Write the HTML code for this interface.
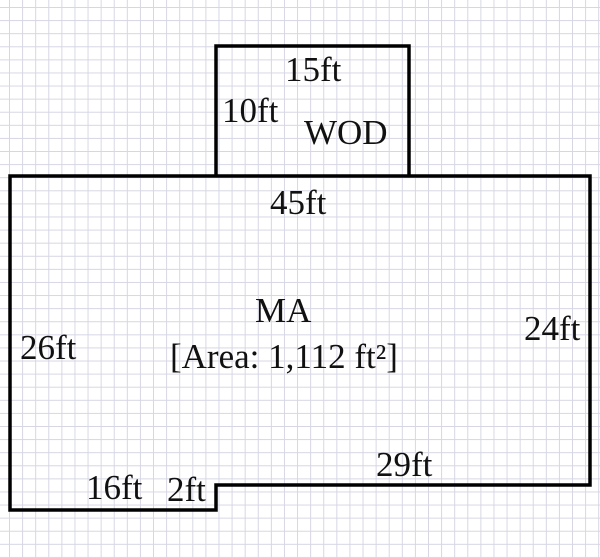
<!DOCTYPE html>
<html><head><style>
html,body{margin:0;padding:0;}
body{width:600px;height:558px;overflow:hidden;background:#fff;
background-image:linear-gradient(to right,#d6d6e4 1px,transparent 1px),linear-gradient(to bottom,#d6d6e4 1px,transparent 1px);
background-size:13.1px 13.1px;background-position:9px 7px;}
svg{position:absolute;left:0;top:0;}
text{font-family:"Liberation Serif",serif;font-size:35px;fill:#111;}
</style></head><body>
<svg width="600" height="558">
<g fill="none" stroke="#000" stroke-width="3.5" stroke-linejoin="miter">
<polyline points="216,176 216,46 409,46 409,176"/>
<polygon points="10,176 590,176 590,485 216,485 216,510 10,510"/>
</g>
<text x="285" y="81">15ft</text>
<text x="222" y="122">10ft</text>
<text x="304" y="144">WOD</text>
<text x="270" y="214">45ft</text>
<text x="255" y="322">MA</text>
<text x="170" y="368">[Area: 1,112 ft²]</text>
<text x="20" y="359">26ft</text>
<text x="524" y="340">24ft</text>
<text x="376" y="476">29ft</text>
<text x="86" y="499">16ft</text>
<text x="167" y="501">2ft</text>
</svg>
</body></html>
